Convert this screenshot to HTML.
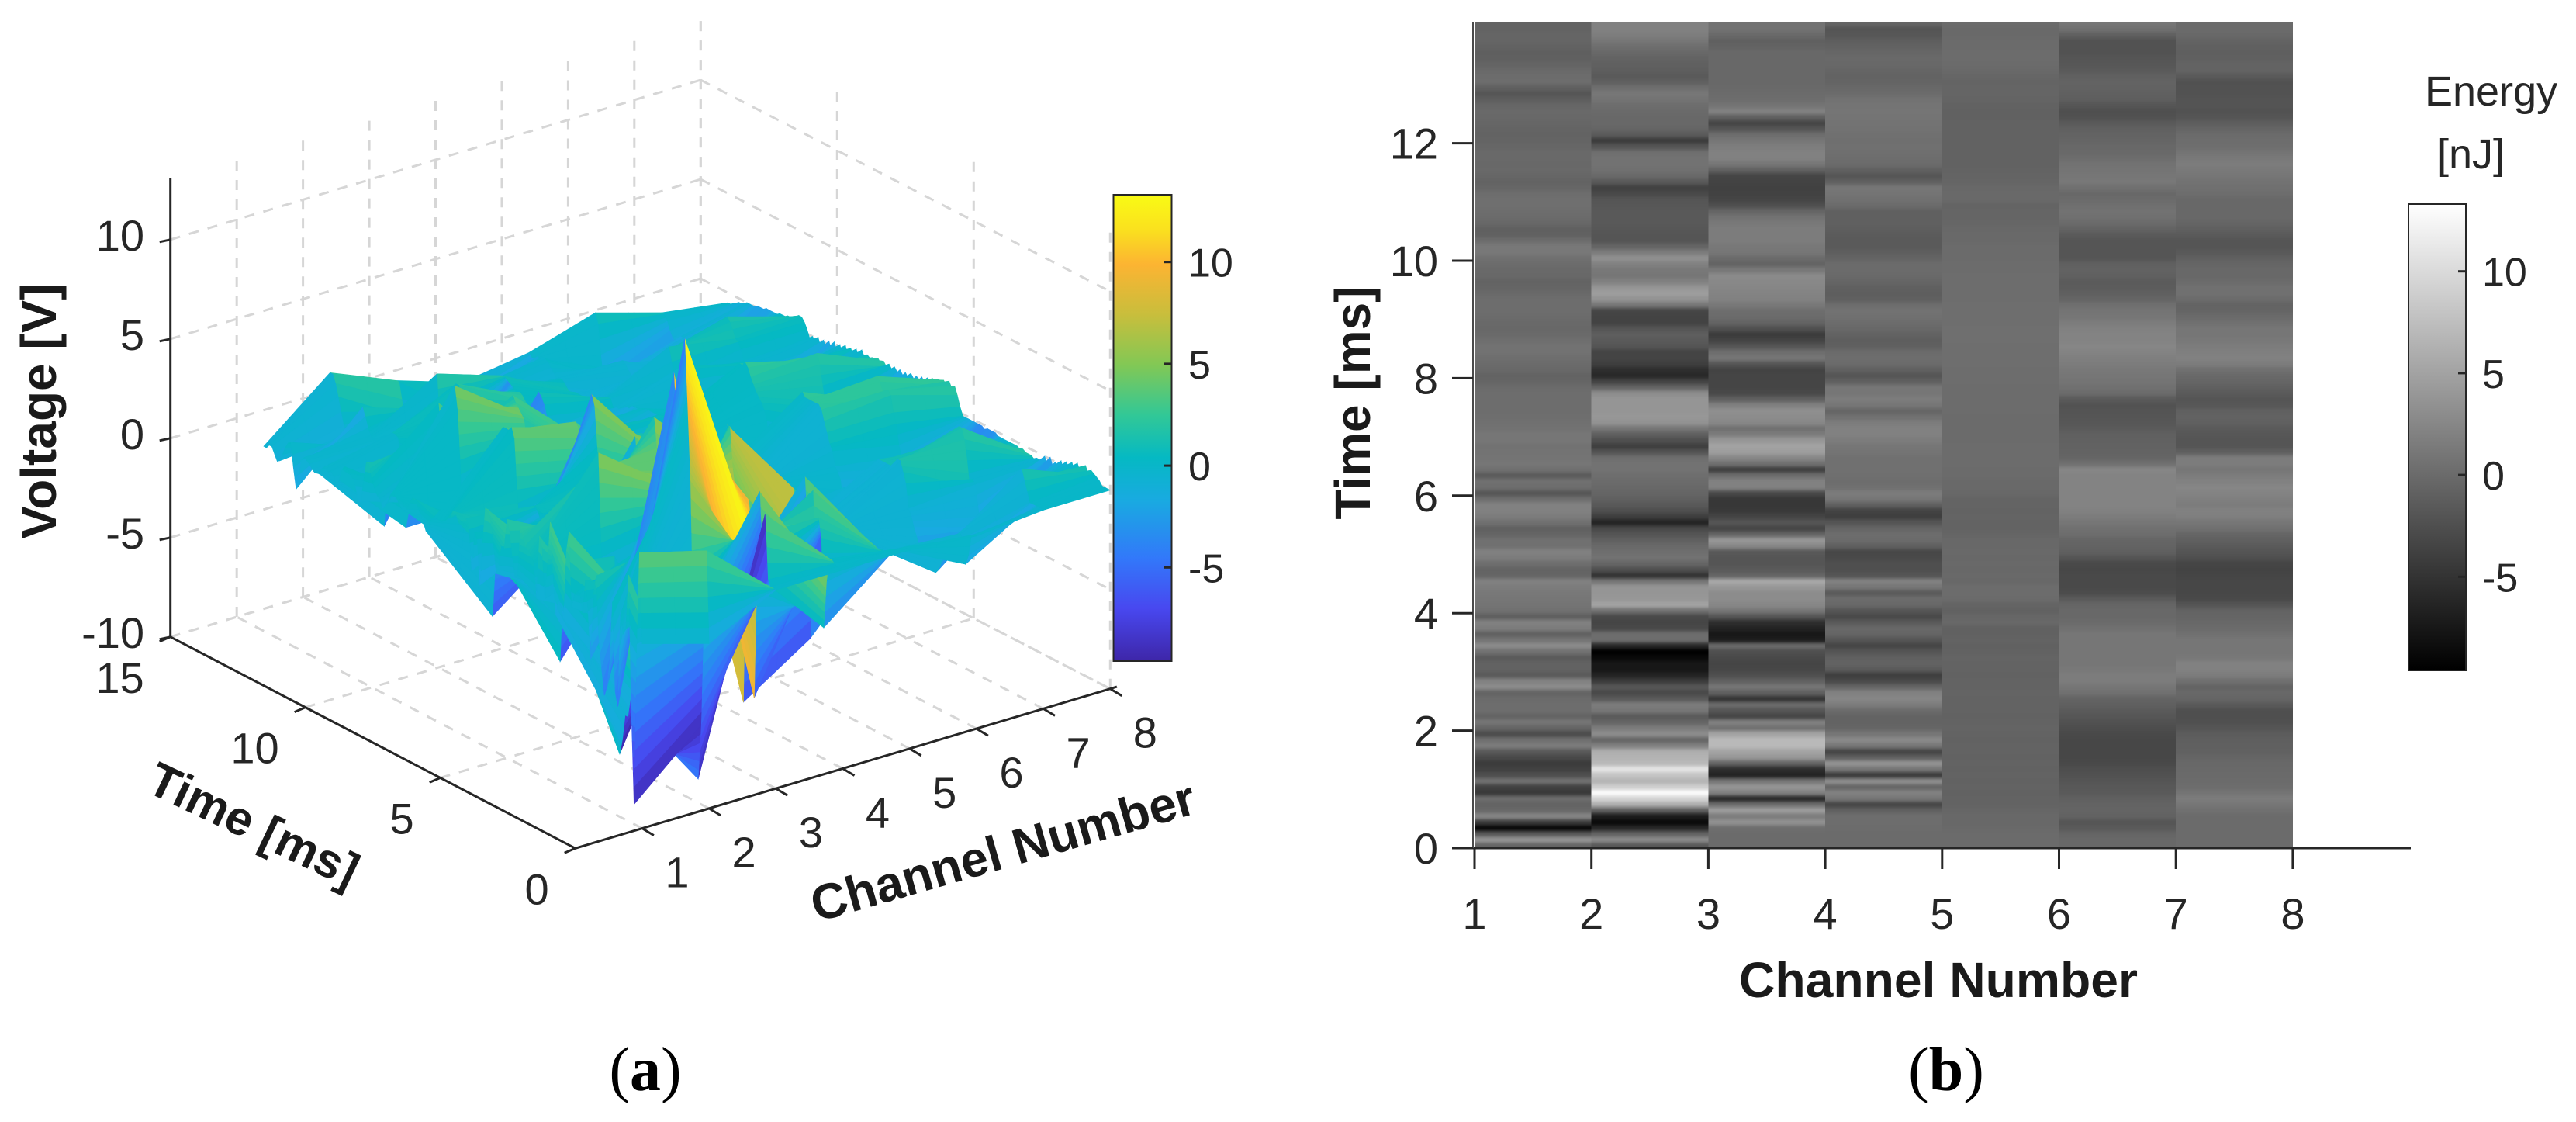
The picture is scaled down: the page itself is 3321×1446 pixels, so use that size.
<!DOCTYPE html>
<html lang="en">
<head>
<meta charset="utf-8">
<title>Voltage surface and energy heatmap</title>
<style>
html,body{margin:0;padding:0;background:#fff;width:3321px;height:1446px;overflow:hidden}
svg{display:block}
text{font-family:"Liberation Sans",Arial,sans-serif;fill:#262626}
.tick{font-size:56px}
.cbtick{font-size:52px}
.title{font-size:64px;font-weight:bold;fill:#1a1a1a}
.cap{font-family:"Liberation Serif",serif;font-size:80px;fill:#000}
.cap .b{font-weight:bold}
.axis{stroke:#262626;stroke-width:3;fill:none}
.grid{stroke:#d6d6d6;stroke-width:3;stroke-dasharray:13 12;fill:none}
</style>
</head>
<body>
<svg id="figure" width="3321" height="1446" viewBox="0 0 3321 1446" xmlns="http://www.w3.org/2000/svg">
  <defs>
    <filter id="vblur" x="0" y="-3%" width="100%" height="106%" color-interpolation-filters="sRGB"><feGaussianBlur stdDeviation="0 2.2"/></filter>
    <clipPath id="heatClip"><rect x="1901" y="28" width="1055" height="1065"/></clipPath>
    <linearGradient id="parulaGrad" x1="0" y1="1" x2="0" y2="0"></linearGradient>
    <linearGradient id="grayGrad" x1="0" y1="1" x2="0" y2="0"><stop offset="0" stop-color="#000"/><stop offset="1" stop-color="#fff"/></linearGradient>
  </defs>
  <rect width="3321" height="1446" fill="#fff"/>

  <g id="panelA">
    <g id="grid3d"></g>
    <g id="axes3d"></g>
    <g id="surface"></g>
    <text class="title" transform="translate(72,530) rotate(-90)" text-anchor="middle">Voltage [V]</text>
    <text class="title" transform="translate(318,1082) rotate(25.5)" text-anchor="middle" style="font-size:62px">Time [ms]</text>
    <text class="title" transform="translate(1299,1118) rotate(-16)" text-anchor="middle">Channel Number</text>
    <rect x="1435.5" y="251" width="75" height="601" fill="url(#parulaGrad)" stroke="#262626" stroke-width="2"/>
    <g id="cbA"></g>
    <text class="cap" x="832" y="1405" text-anchor="middle">(<tspan class="b">a</tspan>)</text>
  </g>

  <g id="panelB">
    <g clip-path="url(#heatClip)">
      <g id="heat" filter="url(#vblur)" shape-rendering="crispEdges"></g>
    </g>
    <g id="axes2d"></g>
    <text class="title" transform="translate(1766,519) rotate(-90)" text-anchor="middle">Time [ms]</text>
    <text class="title" x="2499" y="1285" text-anchor="middle" textLength="514" lengthAdjust="spacingAndGlyphs">Channel Number</text>
    <text x="3126" y="136" style="font-size:54px">Energy</text>
    <text x="3142" y="217" style="font-size:54px">[nJ]</text>
    <rect x="3105" y="263" width="74" height="601" fill="url(#grayGrad)" stroke="#262626" stroke-width="2"/>
    <g id="cbB"></g>
    <text class="cap" x="2509" y="1405" text-anchor="middle">(<tspan class="b">b</tspan>)</text>
  </g>
</svg>

<script>
// Energy / voltage per channel, one value every 0.1 ms from 0 to 14 ms.
const channel1 = [
-0.7,3.8,-1.6,-9,-4.3,2.4,-0.3,-0.7,0.2,-4.5,
-3.8,0.6,-2.5,-3.8,-4.3,-3,-1.6,1.5,0.5,-2.8,
-0.5,1,-0.7,0.2,0.2,0,-0.7,3,2,-1.5,
-0.8,-0.8,-1.5,0.5,3,0.8,-1,1.5,2,-1.2,
0.5,0.8,1,1.2,1.5,2,-0.5,-0.7,0.3,1.5,
2,0.5,0.5,-0.5,-1,0.5,1.5,2,2,0.2,
-2,0.2,0.5,-1.5,0.5,1,0.8,0.7,0.6,1,
1,0.6,0.5,0.3,0.2,0.2,0.2,0.2,0,-0.5,
-0.7,-0.3,0,0.3,0.6,0.6,0.3,-0.1,-0.3,-0.2,
0,0.2,0.2,0.2,-0.2,-0.5,-0.7,-0.3,-0.2,0.1,
0.5,1.2,1.2,0.2,-0.9,-1,-0.3,0,0.2,0.4,
0.4,0.2,-0.4,-0.7,-0.4,-0.2,-0.3,-0.2,-0.2,-0.4,
-0.6,-0.7,-0.6,-0.4,-0.3,-0.2,-0.4,-1.2,-2,-1,
0.2,0.1,-0.2,-0.6,-1,-1.1,-0.8,-0.5,-0.5,-0.7,
-0.7];
const channel2 = [
-1.7,2.9,-0.7,-6,-8.8,-7,-1,6,9.5,13,
9,6.5,8,11,7,6.5,6,2,-0.5,3,
1.5,-0.5,-1.5,1,1.5,-1.5,-3,-1.8,-4.3,-6.5,
-7.5,-7.5,-8.8,-9.6,-6,0.2,0.2,-3,-3.4,-3,
0.5,5,4,3.8,3.8,1,-5,-2.5,-0.5,0.6,
0.3,-0.2,-1,-2,-3,-6.5,-4,-2.5,-1.6,-1,
-0.5,-0.3,0,0.3,0.6,0.6,0.3,-2,-4,-2.5,
-1,1,3.5,4,3.8,3.8,3.8,3,-0.7,-3.5,
-6,-5.5,-4,-3.5,-3.5,-2,-1.5,-1.2,-2,-3.6,
-3.6,-3.4,1,3.5,4.6,3.8,2,1,1.2,2,
3.3,1.5,-0.5,-2,-2,-1.8,-1.6,-1.6,-1.6,-1.8,
-2,-3,-3.8,-1.5,-0.2,0.5,0.6,0.6,0.4,-2,
-4.3,-1.5,-0.5,-0.3,-0.3,-0.1,0.2,0.7,1.1,0.3,
-1,-1.6,-1.2,-1,-0.7,-0.3,0.3,1,1.6,2,
2];
const channel3 = [
0,0,0,0.3,3.5,1.5,4.5,0.2,-6,2,
3.8,1,-6.5,-5.5,-0.7,4,5,7,7,5,
0.5,2,-3.4,-2,0.2,-5,-1,1,-1,-2.5,
-3.2,-3.4,-3,-2.5,0,-7,-7.5,-6.5,-5.5,-2,
1,2.5,3,3,4,5.5,-0.5,-1.5,-2,-2,
-1.6,2.5,4,-0.5,-3.4,-2,-3.5,-4.5,-4.7,-4.7,
-3,2,2,0.2,-4,0.5,2.5,4.5,5,4,
1.5,0.5,2.5,3,3.2,2,-1,-3,-3.4,-3.4,
-3.4,-3.6,-2,1,0.2,-2,-3.5,-4.3,-2.5,-0.7,
0,0.2,1.2,2,2.2,2.4,2.6,2.9,1.2,-0.7,
0,1,1.2,1.5,1.5,1.5,1.2,0.6,-0.5,-2.5,
-3.4,-3.7,-3.8,-3.6,-3.4,-1,1,2,2,1.6,
1,0.2,-2,-3.4,-1,2,0.8,0.2,0,-0.2,
-0.3,-0.3,-0.3,-0.3,-0.3,-0.3,-0.7,-1,-0.2,0.6,
0.6];
const channel4 = [
0,0,0,0.1,0.2,0.2,-1,-3.4,1,2,
-0.5,3.2,-4.3,1,3.7,-1,-3.5,1,2.8,1,
-0.5,-0.7,-0.7,0,1.5,2.4,2,-0.5,-3,-4,
-1.5,-0.7,-1,-2,-3.4,-2,-0.5,-0.3,-1.5,-3,
-2,-0.3,0.1,-1.6,1,2,-2,-2.5,-2.5,-3,
-3.2,-1,0,0.2,-0.5,-2,-4,-3.6,-1,1,
1.5,0.5,0.2,0.4,0.5,0.5,0.5,0.8,1,1.5,
2,2,1.5,0.5,-0.5,1,1.5,1,1,-1,
-2,-1,0,0.2,0,-1,-1.2,-0.8,-0.3,0.1,
0.5,0.6,0.2,-1,-1.2,-1,-0.5,-0.2,0,0,
-0.6,-1.2,-1.5,-1.5,-1.4,-1.2,-1,-1,-1,0,
0.5,0.8,1,-1,-2,-1,0,0.2,0.4,0.5,
0.4,0.5,0.6,0.7,0.8,0.9,0.8,0.6,0,-0.3,
-0.6,-0.7,-0.5,-0.3,-0.2,-0.4,-0.8,-1.2,-1.8,-2,
-0.5];
const channel5 = [
0,0,0,-0.2,-0.3,-0.3,-0.4,-0.7,-0.7,-0.8,
-0.7,-0.8,-0.7,-0.8,-0.7,-0.8,-0.7,-0.7,-0.8,-0.7,
-0.6,-0.7,-0.8,-0.7,-0.7,-0.7,-0.6,-0.7,-0.7,-0.8,
-0.7,-0.7,-0.6,-0.8,-0.9,-0.7,-0.9,-0.9,-0.3,-0.4,
-0.9,-0.6,0,0.1,0.1,-0.3,-0.2,-0.3,-0.2,-0.3,
-0.2,-0.3,-0.3,-0.5,-0.7,-0.7,-0.6,-0.7,-0.6,-0.6,
-0.3,-0.2,-0.2,0,0,0.1,0.1,0.1,0.1,0,
0,0,0,0,0.1,0.1,0.1,0.1,0.1,0.2,
0.2,0.2,0.3,0.3,0.3,0.3,0.4,0.4,0.4,0.3,
0.3,0.3,0.3,0.2,0.2,0.2,0.2,0.2,0.1,0.1,
0,0,0,-0.2,-0.2,-0.3,-0.4,-0.5,-0.5,-0.6,
-0.2,-0.2,-0.3,-0.5,-0.6,-0.7,-0.8,-0.8,-0.8,-0.8,
-0.8,-0.8,-0.8,-0.8,-0.9,-0.9,-0.8,-0.6,-0.5,-0.5,
-0.6,-0.4,-0.2,0,0.1,0.1,0,0,-0.2,-0.2,
0];
const channel6 = [
-0.3,-0.3,-0.5,-1.5,-2,-0.8,-0.6,-0.7,-1,-1.5,
-1.7,-2,-2.3,-2.6,-3,-3.2,-3.2,-3.2,-3.2,-3,
-2.7,-2.3,-1.9,-1.5,-1,-0.7,0.5,1,1.5,1.5,
1.2,1,1,1,1,1,1,0.5,0,-0.3,
-0.3,-0.5,-1.5,-2.8,-3,-3,-3,-3.2,-3,-2,
-1,-0.7,-0.5,0.2,0.5,1,1.5,2,2.2,2.2,
2.2,2.2,2.2,2.2,2.4,0.5,-0.5,-0.7,-0.8,-0.9,
-1,-1.5,-1.8,-2,-2.1,-2.2,-1.5,0,0.5,0.8,
1,1.2,1.5,1.8,2.2,2.4,2.2,2.2,2,1.5,
1,0.8,0.4,-0.5,-1,-1.3,-1.4,-1,-0.8,-1,
-2,-2,-2,-2,-1.5,-0.7,0,0.5,0.6,0.4,
0,-0.3,0.5,1.2,1,0.8,0.6,0.2,-0.2,-0.3,
-0.5,-0.7,-1,-1.5,-2.3,-2.5,-2,-1.2,-1,-0.8,
-0.7,-1,-1.5,-1.8,-2,-2.2,-2.2,-2.2,-1,0.5,
1];
const channel7 = [
0,0,0,0,0,0,0.5,1,1.5,0.8,
0.2,0,-0.1,-0.2,-0.3,-0.5,-0.9,-1,-1.1,-1.3,
-2,-2.4,-2.5,-2.5,-1.5,-0.5,-0.3,-0.7,0.5,1.5,
2,2,1.2,1,1,1,0.5,0,-0.3,-0.5,
-0.7,-2,-3,-3.2,-3.2,-3.2,-3.4,-3.6,-3.4,-2.5,
-2,-1.5,-1,-0.5,0.5,1,1.8,2,1.5,1.8,
2.2,2.4,2,1.5,1,1.5,1.5,-1,-2,-2,
-1.8,-1.5,-1,-0.8,-1,-1.8,-2,-1.5,-1,-0.5,
-0.2,0.5,1.5,2,1.8,1.5,1.2,1,1,0.5,
0,-0.5,-0.7,0,0.5,0.5,0,-0.3,-0.3,-0.5,
-1,-1.6,-2,-2,-1.5,-1,-0.5,-0.3,-0.3,-0.3,
-0.3,0.2,0.5,0.6,1,1.3,1.5,1.3,0.8,0.3,
0.2,0,-0.5,-1.2,-2,-2.2,-2.1,-2.1,-2.2,-2.2,
-2.3,-1.5,-0.7,-0.7,-1,-1.1,-1,-0.7,-0.3,0,
0];
const channel8 = [
0,0,0,0,0.2,0.3,0.4,0.5,0.2,0.6,
0.5,0.1,0.5,0,0.4,-0.1,0.3,-0.2,0.2,-0.3,
0,-0.3,0.1,-0.4,0,-0.4,-0.3,-0.3,-0.4,-0.3,
-0.3,-0.3,-0.2,-0.3,-0.2,-0.2,-0.2,-0.2,-0.2,-0.2,
-0.2,-0.2,-0.1,-0.1,-0.1,-0.1,-0.2,-0.1,-0.1,-0.1,
-0.1,-0.1,-0.1,-0.1,-0.1,0.3,0.8,1.2,1,1.3,
1,1.2,0.9,1.1,0.8,1,0.7,0.9,0.6,0.8,
0.6,0.7,0.5,0.7,0.4,0.6,0.4,0.6,0.4,0.6,
0.4,0.6,0.4,0.6,0.4,0.6,0.4,0.5,0.4,0.5,
0.3,0.6,0.1,0.5,0,0.4,-0.1,0.4,-0.2,0.3,
-0.2,0.3,-0.3,0.2,-0.3,0.1,-0.3,0.1,-0.2,0,
-0.2,0.2,0.5,0.7,0.7,0.6,0.5,0.4,0.4,0.3,
0.3,0.3,0.2,0.2,0.2,0.2,0.2,0.1,0.1,0.1,
0,0,0,0,-0.1,-0.2,-0.2,-0.3,-0.4,-0.5,
-0.5];
const channelSeries = [channel1, channel2, channel3, channel4, channel5, channel6, channel7, channel8];
const channelNumbers = [1, 2, 3, 4, 5, 6, 7, 8];
const timeSamples = channel1.map(function (_, i) { return i / 10; });

const timeTicks3d = [0, 5, 10, 15];
const voltageTicks = [-10, -5, 0, 5, 10];
const timeTicks2d = [0, 2, 4, 6, 8, 10, 12];
const colorbarTicks = [-5, 0, 5, 10];

const colorLow = -9.6, colorHigh = 13.3;
const parulaOffsets = [0, 0.113, 0.22, 0.344, 0.436, 0.528, 0.635, 0.742, 0.85, 0.926, 1];
const parulaColors = [[62,38,168],[72,72,240],[50,120,250],[25,170,225],[5,185,195],[50,200,150],[130,200,85],[200,190,60],[252,180,50],[250,225,30],[249,251,20]];

const NS = 'http://www.w3.org/2000/svg';
function parula(v) {
  var n = Math.max(0, Math.min(1, (v - colorLow) / (colorHigh - colorLow)));
  for (var i = 1; i < parulaOffsets.length; i++) {
    if (n <= parulaOffsets[i]) {
      var f = (n - parulaOffsets[i-1]) / (parulaOffsets[i] - parulaOffsets[i-1]);
      var c0 = parulaColors[i-1], c1 = parulaColors[i];
      return 'rgb(' + Math.round(c0[0]+(c1[0]-c0[0])*f) + ',' + Math.round(c0[1]+(c1[1]-c0[1])*f) + ',' + Math.round(c0[2]+(c1[2]-c0[2])*f) + ')';
    }
  }
  return 'rgb(249,251,20)';
}
function grayOf(v) {
  var g = Math.round(255 * Math.max(0, Math.min(1, (v - colorLow) / (colorHigh - colorLow))));
  return 'rgb(' + g + ',' + g + ',' + g + ')';
}
function project(ch, t, v) {
  return {
    x: 741.7 + 86.2 * ch - 34.8 * t - 6 * (ch / 8) * (t / 15),
    y: 837.3 - 25.7 * ch - 18.17 * t - 25.6 * v
  };
}
function xB(ch) { return 1901 + 150.7 * (ch - 1); }
function yB(t) { return 1093 - 75.7 * t; }
function yColorA(v) { return 852 - (v - colorLow) * 26.24; }
function yColorB(v) { return 864 - (v - colorLow) * 26.24; }

function line(parentEl, a, b, cls) {
  var el = document.createElementNS(NS, 'line');
  el.setAttribute('x1', a.x.toFixed(1));
  el.setAttribute('y1', a.y.toFixed(1));
  el.setAttribute('x2', b.x.toFixed(1));
  el.setAttribute('y2', b.y.toFixed(1));
  el.setAttribute('class', cls);
  parentEl.appendChild(el);
  return el;
}
function label(parentEl, x, y, str, cls, anchor) {
  var el = document.createElementNS(NS, 'text');
  el.setAttribute('x', x.toFixed(1));
  el.setAttribute('y', y.toFixed(1));
  el.setAttribute('class', cls);
  el.setAttribute('text-anchor', anchor);
  el.textContent = str;
  parentEl.appendChild(el);
  return el;
}

// parula colorbar gradient
var parulaGrad = document.getElementById('parulaGrad');
parulaOffsets.forEach(function (o, i) {
  var s = document.createElementNS(NS, 'stop');
  s.setAttribute('offset', o);
  s.setAttribute('stop-color', 'rgb(' + parulaColors[i].join(',') + ')');
  parulaGrad.appendChild(s);
});

// 3D gridlines
var gridGroup = document.getElementById('grid3d');
var vMax = 13, tMax = 15, chMax = 8;
channelNumbers.forEach(function (c) {
  var el = line(gridGroup, project(c, 0, -10), project(c, tMax, -10), 'grid');
  
  
  var el2 = line(gridGroup, project(c, tMax, -10), project(c, tMax, vMax), 'grid');
  
  
});
timeTicks3d.forEach(function (t) {
  var el = line(gridGroup, project(0, t, -10), project(chMax, t, -10), 'grid');
  
  
  var el2 = line(gridGroup, project(chMax, t, -10), project(chMax, t, vMax), 'grid');
  
  
});
voltageTicks.forEach(function (v) {
  var el = line(gridGroup, project(0, tMax, v), project(chMax, tMax, v), 'grid');
  
  
  var el2 = line(gridGroup, project(chMax, tMax, v), project(chMax, 0, v), 'grid');
  
  
});

// 3D axes
var axes3d = document.getElementById('axes3d');
var a1 = line(axes3d, project(0, 0, -10), project(0, tMax, -10), 'axis');


var a2 = line(axes3d, project(0, 0, -10), project(8.1, 0, -10), 'axis');


var a3 = line(axes3d, project(0, tMax, -10), project(0, tMax, 13.1), 'axis');


channelNumbers.forEach(function (c) {
  var p = project(c, 0, -10);
  var tk = line(axes3d, p, {x: p.x + 15, y: p.y + 9}, 'axis');
  
  
  var lb = label(axes3d, p.x + 45, p.y + 76, String(c), 'tick', 'middle');
  
  
});
timeTicks3d.forEach(function (t) {
  var p = project(0, t, -10);
  var tk = line(axes3d, p, {x: p.x - 14, y: p.y + 6}, 'axis');
  
  
  var lb = label(axes3d, p.x - 34, p.y + 72, String(t), 'tick', 'end');
  
  
});
voltageTicks.forEach(function (v) {
  var p = project(0, tMax, v);
  var tk = line(axes3d, p, {x: p.x - 14, y: p.y + 3}, 'axis');
  
  
  var lb = label(axes3d, 186, p.y + 14, String(v), 'tick', 'end');
  
  
});

// Surface: painter's algorithm over the channel / time mesh.
// Colour follows the left channel of each strip and varies only along time.
var facets = [];
var chSub = 2;
channelSeries.slice(0, -1).forEach(function (L, k) {
  var R = channelSeries[k + 1];
  var cL = channelNumbers[k], cR = channelNumbers[k + 1];
  for (var i = 0; i < timeSamples.length - 1; i++) {
    var t0 = timeSamples[i], t1 = timeSamples[i + 1];
    var dv = Math.max(Math.abs(L[i+1] - L[i]), Math.abs(R[i+1] - R[i]));
    var tSub = Math.min(8, Math.max(1, Math.ceil(dv / 0.8)));
    for (var sa = 0; sa < chSub; sa++) {
      for (var sb = 0; sb < tSub; sb++) {
        var ua = sa / chSub, ub = (sa + 1) / chSub, wa = sb / tSub, wb = (sb + 1) / tSub;
        var chA = cL + (cR - cL) * ua, chB = cL + (cR - cL) * ub;
        var tA = t0 + (t1 - t0) * wa, tB = t0 + (t1 - t0) * wb;
        var v00 = (L[i] * (1 - ua) + R[i] * ua) * (1 - wa) + (L[i+1] * (1 - ua) + R[i+1] * ua) * wa;
        var v10 = (L[i] * (1 - ub) + R[i] * ub) * (1 - wa) + (L[i+1] * (1 - ub) + R[i+1] * ub) * wa;
        var v11 = (L[i] * (1 - ub) + R[i] * ub) * (1 - wb) + (L[i+1] * (1 - ub) + R[i+1] * ub) * wb;
        var v01 = (L[i] * (1 - ua) + R[i] * ua) * (1 - wb) + (L[i+1] * (1 - ua) + R[i+1] * ua) * wb;
        var cv = L[i] * (1 - (wa + wb) / 2) + L[i+1] * (wa + wb) / 2;
        var pts = [project(chA, tA, v00), project(chB, tA, v10), project(chB, tB, v11), project(chA, tB, v01)];
        facets.push({
          depth: 25.7 * (chA + chB) / 2 + 18.17 * (tA + tB) / 2,
          color: parula(cv),
          pts: pts.map(function (p) { return p.x.toFixed(1) + ',' + p.y.toFixed(1); }).join(' ')
        });
      }
    }
  }
});
facets.sort(function (p, q) { return q.depth - p.depth; });
var surfaceGroup = document.getElementById('surface');
var surfaceFrag = document.createDocumentFragment();
facets.forEach(function (f) {
  var el = document.createElementNS(NS, 'polygon');
  
  
  el.setAttribute('points', f.pts);
  el.setAttribute('fill', f.color);
  el.setAttribute('stroke', f.color);
  el.setAttribute('stroke-width', '0.7');
  surfaceFrag.appendChild(el);
});
surfaceGroup.appendChild(surfaceFrag);

// Colorbar ticks panel A
var cbA = document.getElementById('cbA');
colorbarTicks.forEach(function (v) {
  var y = yColorA(v);
  var tk = line(cbA, {x: 1500, y: y}, {x: 1510.5, y: y}, 'axis');
  
  
  var lb = label(cbA, 1532, y + 19, String(v), 'cbtick', 'start');
  
  
});

// Heatmap cells (last channel only bounds the final column)
var heatGroup = document.getElementById('heat');
var heatFrag = document.createDocumentFragment();
channelSeries.slice(0, -1).forEach(function (series, c) {
  series.forEach(function (value, r) {
    var cellTop = r === timeSamples.length - 1 ? yB(14.4) : yB(timeSamples[r] + 0.1);
    var cellBottom = r === 0 ? yB(0) + 10 : yB(timeSamples[r]);
    var cell = document.createElementNS(NS, 'rect');
    
    
    cell.setAttribute('x', xB(channelNumbers[c]).toFixed(1));
    cell.setAttribute('y', cellTop.toFixed(1));
    cell.setAttribute('width', (xB(channelNumbers[c + 1]) - xB(channelNumbers[c])).toFixed(1));
    cell.setAttribute('height', (cellBottom - cellTop + 0.6).toFixed(1));
    cell.setAttribute('fill', grayOf(value));
    heatFrag.appendChild(cell);
  });
});
heatGroup.appendChild(heatFrag);

// Heatmap axes
var axes2d = document.getElementById('axes2d');
var xa = line(axes2d, {x: 1899, y: 1093}, {x: 3108, y: 1093}, 'axis');


var ya = line(axes2d, {x: 1899, y: 28}, {x: 1899, y: 1093}, 'axis');


ya.setAttribute('style', 'stroke:#4a4a4a;stroke-width:2');
channelNumbers.forEach(function (c) {
  var x = xB(c);
  var tk = line(axes2d, {x: x, y: 1093}, {x: x, y: 1120}, 'axis');
  
  
  var lb = label(axes2d, x, 1197, String(c), 'tick', 'middle');
  
  
});
timeTicks2d.forEach(function (t) {
  var y = yB(t);
  var tk = line(axes2d, {x: 1872, y: y}, {x: 1899, y: y}, 'axis');
  
  
  var lb = label(axes2d, 1854, y + 20, String(t), 'tick', 'end');
  
  
});

// Colorbar ticks panel B
var cbB = document.getElementById('cbB');
colorbarTicks.forEach(function (v) {
  var y = yColorB(v);
  var tk = line(cbB, {x: 3169, y: y}, {x: 3179, y: y}, 'axis');
  
  
  var lb = label(cbB, 3200, y + 19, String(v), 'cbtick', 'start');
  
  
});
</script>
</body>
</html>
